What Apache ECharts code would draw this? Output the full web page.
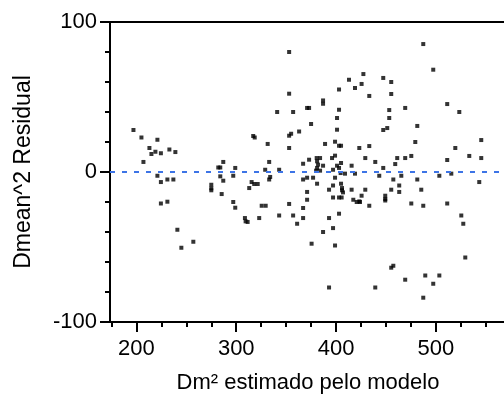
<!DOCTYPE html>
<html>
<head>
<meta charset="utf-8">
<script src="https://cdn.jsdelivr.net/npm/echarts@6/dist/echarts.min.js"></script>
<style>
    html, body { margin: 0; padding: 0; background: #fff; }
    #chart { width: 504px; height: 396px; }
</style>
</head>
<body>
<div id="chart"></div>
<script>
    // valores estimados pelo modelo (eixo x)
    var fitted = [
        197, 205, 221, 213, 215, 219, 224.5, 233, 239, 207, 282, 284, 287, 221, 231, 237, 224.5, 224.5, 231, 241,
        245, 257, 275, 275, 275, 287, 285.4, 297, 315.4, 318, 321.5, 333, 313, 297, 299, 325.5, 329.5, 308.7, 309.4, 311.4,
        323, 343, 353, 357, 361, 367, 367, 371, 371, 367, 371, 377, 381, 380, 384, 375.5, 387, 393, 393, 397,
        397, 403, 405.6, 399, 397, 399, 403, 393, 405, 406, 406, 407, 415.6, 417.3, 420.7, 423.3, 419, 409, 404.6, 443.3,
        465.4, 457.4, 481.4, 503.5, 515.5, 543.5, 463.3, 455.3, 463.3, 485.4, 429.3, 425.6, 424, 433.3, 449.3, 449.3, 449.3, 475.4, 487.4, 511.4,
        525.5, 527.5, 529.5, 455.3, 457.4, 469.3, 489.4, 503.5, 497.4, 439.3, 487.4,
        353, 353, 341, 357, 371, 373, 387, 387, 403, 413, 419, 403, 401, 375, 401, 363, 355, 353, 317, 318.5,
        331.5, 353, 389, 399, 403, 405, 423.3, 299, 333, 329, 343, 367, 373, 380.6, 384, 381, 382, 381, 387, 396,
        399, 397, 401, 405, 403, 415.6, 334, 284, 487.4, 497.4, 427.4, 447.3, 455.3, 425.6, 455.3, 433.3, 511.4, 523.5,
        453.3, 469.3, 453.3, 481.4, 447.3, 451.3, 479.4, 545.5, 519.5, 433.3, 475.4, 469.3, 461.3, 429.3, 533.5, 545.5, 511.4, 439.3, 459.3, 447.3
    ];
    // residuos (eixo y)
    var residual = [
        28, 23, 21.5, 16, 12, 13.5, 12.5, 15, 13.3, 6.7, 3, 3, 6.7, -2.5, -5, -5, -6.7, -21, -19.8, -38.5,
        -50.5, -46.5, -8.5, -10.9, -12.2, -5.8, -14.7, -2.5, -6.7, -8, -8, -5, -10.7, -20, -23.8, -22.5, -22.5, -30.7, -32.9, -33.3,
        -30.7, -29, -21.3, -29, -34.5, -24, -30.7, -18.5, -13.3, -5, -3.8, -3.8, -7.8, 0.9, 0.9, -47.8, -40, -30.7, -11.8, -9,
        -17, -17, -17, -3.8, -37.4, -49, -27.8, -77, -7.8, -10.7, -12.2, -13.6, -11.8, -18.5, -20, -19.6, -1.1, -1.1, -0.7, -2.5,
        -2.5, -5, -5, -2.5, -1.1, -6.7, -9, -11.8, -13.3, -11.8, -11.8, -15.8, -20, -22.5, -15.8, -18, -19, -21, -22.5, -21,
        -29, -34.5, -57, -63.8, -62.5, -71.8, -69, -69, -74.5, -77, -83.8,
        80, 52.2, 40, 40, 42.7, 42.7, 47.7, 45.5, 55, 61.5, 56, 41.5, 36, 32, 28.2, 27, 25.5, 24.2, 24, 23,
        18.7, 16, 18.7, 20.2, 17.5, 17.5, 16, 2.7, 6.7, 1.5, 1.5, 5.5, 8.2, 9.3, 9.3, 7.1, 4.9, 2.7, 4.2, 9.3,
        10.9, 1.5, 4.2, 6, 2.7, 4.2, -3.3, -2.9, 85.3, 68.2, 65.3, 62.7, 60, 58.7, 52, 50.7, 45.3, 40,
        41.3, 42.7, 36, 30.7, 28, 29.3, 20, 21.3, 16, 17.3, 10.7, 9.3, 9.3, 9.3, 10.7, 9.3, 8, 6.7, 5.3, 2.7
    ];
    var xMajorTicks = [200, 300, 400, 500];
    var xMinorTicks = [175, 225, 250, 275, 325, 350, 375, 425, 450, 475, 525, 550];

    var points = fitted.map(function (x, i) { return [x, residual[i]]; });

    var myChart = echarts.init(document.getElementById('chart'));
    var font = '"Liberation Sans", Arial, sans-serif';
    // a area de plotagem continua alem da borda direita da imagem
    var xMin = 173.5, xMax = 570.3;

    var option = {
        animation: false,
        grid: {
            left: 110, right: -2, top: 22, bottom: 74,
            outerBoundsMode: 'none',
            show: true, borderColor: '#000', borderWidth: 2, backgroundColor: 'transparent'
        },
        xAxis: [{
            type: 'value', min: xMin, max: xMax, position: 'bottom',
            name: 'Dm² estimado pelo modelo', nameLocation: 'middle', nameGap: 50,
            nameTextStyle: { fontFamily: font, fontSize: 22, color: '#000' },
            splitLine: { show: false },
            axisLine: { onZero: false, lineStyle: { color: '#000', width: 2 } },
            axisTick: { customValues: xMajorTicks, length: 10, lineStyle: { color: '#000', width: 2 } },
            axisLabel: { customValues: xMajorTicks, margin: 16, fontFamily: font, fontSize: 22, color: '#000' }
        }, {
            type: 'value', min: xMin, max: xMax, position: 'bottom',
            splitLine: { show: false },
            axisLine: { show: false, onZero: false },
            axisTick: { customValues: xMinorTicks, length: 5, lineStyle: { color: '#000', width: 2 } },
            axisLabel: { show: false }
        }],
        yAxis: {
            type: 'value', min: -100, max: 100, interval: 100,
            name: 'Dmean^2 Residual', nameLocation: 'middle', nameGap: 75,
            nameTextStyle: { fontFamily: font, fontSize: 23, color: '#000' },
            splitLine: { show: false },
            axisLine: { onZero: false, lineStyle: { color: '#000', width: 2 } },
            axisTick: { length: 10, lineStyle: { color: '#000', width: 2 } },
            minorTick: { show: true, splitNumber: 5, length: 5, lineStyle: { color: '#000', width: 2 } },
            axisLabel: { margin: 13, fontFamily: font, fontSize: 22, color: '#000' }
        },
        series: [{
            type: 'scatter',
            data: points,
            symbol: 'rect',
            symbolSize: 4,
            itemStyle: { color: '#000' },
            markLine: {
                silent: true,
                symbol: 'none',
                label: { show: false },
                lineStyle: { color: '#3d74e6', type: [5, 7], width: 2 },
                data: [{ yAxis: 0 }]
            }
        }]
    };
    myChart.setOption(option);
</script>
</body>
</html>
